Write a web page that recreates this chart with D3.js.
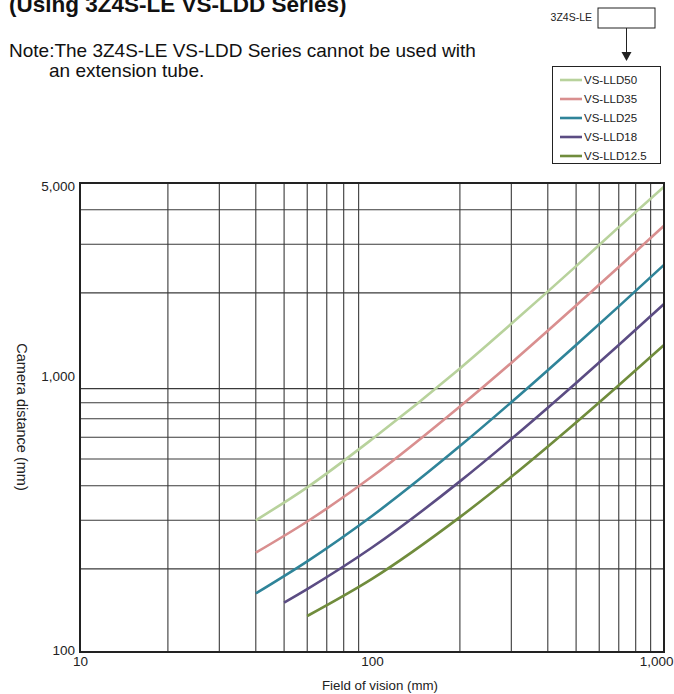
<!DOCTYPE html>
<html>
<head>
<meta charset="utf-8">
<script src="https://cdn.jsdelivr.net/npm/d3@7"></script>
<style>
  html, body { margin: 0; padding: 0; background: #fff; }
  svg { display: block; font-family: "Liberation Sans", Arial, sans-serif; }
</style>
</head>
<body>
<svg id="chart" width="674" height="694"></svg>
<script>
// ---- data ----
const seriesNames = ["VS-LLD50", "VS-LLD35", "VS-LLD25", "VS-LLD18", "VS-LLD12.5"];
const seriesColors = ["#b8d29c", "#d98f8f", "#2f8499", "#5b4c83", "#708c3c"];

const fovLLD50 = [40, 60, 100, 200, 300, 500, 700, 1000];
const distLLD50 = [300, 395, 590, 1065, 1545, 2500, 3460, 4850];

const fovLLD35 = [40, 60, 100, 200, 300, 500, 700, 1000];
const distLLD35 = [229, 297, 432, 775, 1115, 1800, 2480, 3500];

const fovLLD25 = [40, 60, 100, 200, 300, 500, 700, 1000];
const distLLD25 = [163, 213, 311, 557, 803, 1295, 1787, 2525];

const fovLLD18 = [50, 60, 100, 200, 300, 500, 700, 1000];
const distLLD18 = [151, 169, 239, 415, 591, 943, 1295, 1823];

const fovLLD125 = [60, 100, 200, 300, 500, 700, 1000];
const distLLD125 = [135, 184, 308, 431, 678, 925, 1295];

const xGridValues = [20, 30, 40, 50, 60, 70, 80, 90, 200, 300, 400, 500, 600, 700, 800, 900];
const yGridValues = [200, 300, 400, 500, 600, 700, 800, 900, 2000, 3000, 4000];
const xTickLabels = [10, 100, 1000];
const yTickLabels = [100, 1000, 5000];

const titleText = "(Using 3Z4S-LE VS-LDD Series)";
const noteLine1 = "Note:The 3Z4S-LE VS-LDD Series cannot be used with";
const noteLine2 = "an extension tube.";
const cameraLabel = "3Z4S-LE";
const xAxisTitle = "Field of vision (mm)";
const yAxisTitle = "Camera distance (mm)";

// ---- build ----
const fovs = [fovLLD50, fovLLD35, fovLLD25, fovLLD18, fovLLD125];
const dists = [distLLD50, distLLD35, distLLD25, distLLD18, distLLD125];
const series = seriesNames.map((name, i) => ({
  name, color: seriesColors[i],
  points: fovs[i].map((f, j) => ({ fov: f, dist: dists[i][j] }))
}));

const svg = d3.select("#chart");
const pLeft = 80, pRight = 664, pTop = 183, pBottom = 652;

const x = d3.scaleLog().domain([10, 1000]).range([pLeft, pRight]);
const y = d3.scaleLog().domain([100, 5000]).range([pBottom, pTop]);
const fmt = d3.format(",");

// title (cut off at top, as in the reference)
svg.append("text").attr("x", 9).attr("y", 12)
  .attr("font-size", 22.5).attr("font-weight", "bold").attr("fill", "#111")
  .text(titleText);

// note
svg.append("text").attr("x", 9).attr("y", 57).attr("font-size", 19).attr("fill", "#111").text(noteLine1);
svg.append("text").attr("x", 49).attr("y", 77).attr("font-size", 19).attr("fill", "#111").text(noteLine2);

// grid
const grid = svg.append("g").attr("stroke", "#3a3a3a").attr("stroke-width", 1.1);
grid.selectAll("line.v").data(xGridValues).join("line").attr("class", "v")
  .attr("x1", d => x(d)).attr("x2", d => x(d)).attr("y1", pTop).attr("y2", pBottom);
grid.selectAll("line.h").data(yGridValues).join("line").attr("class", "h")
  .attr("y1", d => y(d)).attr("y2", d => y(d)).attr("x1", pLeft).attr("x2", pRight);

// curves
const line = d3.line().x(d => x(d.fov)).y(d => y(d.dist)).curve(d3.curveMonotoneX);
svg.append("g").selectAll("path").data(series).join("path")
  .attr("d", d => line(d.points))
  .attr("fill", "none").attr("stroke", d => d.color).attr("stroke-width", 2.6);

// frame
svg.append("rect").attr("x", pLeft).attr("y", pTop).attr("width", pRight - pLeft).attr("height", pBottom - pTop)
  .attr("fill", "none").attr("stroke", "#222").attr("stroke-width", 2);

// axes tick labels via d3 axes (domain and ticks hidden)
const xAxis = d3.axisBottom(x).tickValues(xTickLabels).tickFormat(fmt).tickSize(0).tickPadding(4);
const gx = svg.append("g").attr("transform", `translate(0,${pBottom})`).call(xAxis);
const yAxis = d3.axisLeft(y).tickValues(yTickLabels).tickFormat(fmt).tickSize(0).tickPadding(5);
const gy = svg.append("g").attr("transform", `translate(${pLeft},0)`).call(yAxis);
[gx, gy].forEach(g => {
  g.select(".domain").remove();
  g.selectAll("text").attr("font-size", 13.5).attr("fill", "#222")
    .attr("font-family", "\"Liberation Sans\", Arial, sans-serif");
});
gx.selectAll(".tick").filter(d => d === 1000).select("text").attr("text-anchor", "end").attr("dx", 9);
gy.selectAll(".tick").filter(d => d === 5000).select("text").attr("dy", "0.55em");
gy.selectAll(".tick").filter(d => d === 100).select("text").attr("dy", "0.15em");

// axis titles
svg.append("text").attr("x", 380).attr("y", 690).attr("text-anchor", "middle")
  .attr("font-size", 13.3).attr("fill", "#222").text(xAxisTitle);
svg.append("text").attr("transform", `translate(17,417) rotate(90)`)
  .attr("text-anchor", "middle").attr("font-size", 14.5).attr("fill", "#222").text(yAxisTitle);

// camera box + arrow
svg.append("text").attr("x", 592).attr("y", 21).attr("text-anchor", "end").attr("font-size", 10.5).attr("fill", "#222").text(cameraLabel);
svg.append("rect").attr("x", 598).attr("y", 8).attr("width", 57).attr("height", 20)
  .attr("fill", "#fff").attr("stroke", "#222").attr("stroke-width", 1);
svg.append("line").attr("x1", 626.5).attr("x2", 626.5).attr("y1", 28).attr("y2", 53).attr("stroke", "#222").attr("stroke-width", 1);
svg.append("path").attr("d", "M621.5,52 L631.5,52 L626.5,61 Z").attr("fill", "#222");

// legend
const lg = svg.append("g");
lg.append("rect").attr("x", 552.5).attr("y", 66.5).attr("width", 108).attr("height", 97)
  .attr("fill", "#fff").attr("stroke", "#222").attr("stroke-width", 1);
const rows = lg.selectAll("g.row").data(series).join("g").attr("class", "row")
  .attr("transform", (d, i) => `translate(0,${80 + i * 19})`);
rows.append("line").attr("x1", 560).attr("x2", 582).attr("y1", 0).attr("y2", 0)
  .attr("stroke", d => d.color).attr("stroke-width", 2.6);
rows.append("text").attr("x", 584).attr("y", 4).attr("font-size", 11.5).attr("fill", "#222").text(d => d.name);
</script>
</body>
</html>
